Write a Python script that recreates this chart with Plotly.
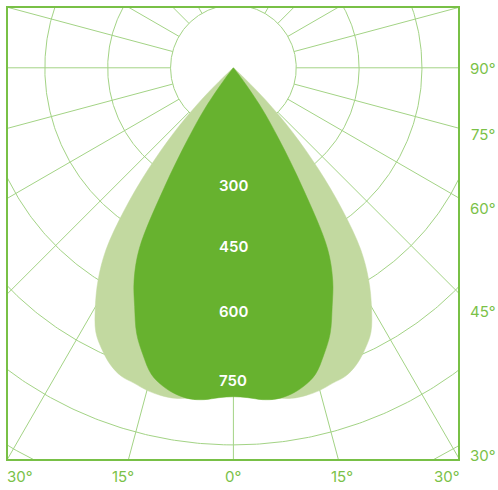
import numpy as np
import plotly.graph_objects as go

# ---- data (candela vs. angle from nadir, symmetric curve) ----
angles_deg = [0, 2.5, 5, 7.5, 10, 12.5, 15, 17.5, 20, 22.5, 25, 27.5, 30,
              32.5, 35, 37.5, 40, 42.5, 45, 47.5, 50]
dark_cd = [785, 788, 795, 797, 791, 778, 757, 718, 675, 616, 561, 486, 330,
           203, 117, 33, 0, 0, 0, 0, 0]
light_cd = [778, 780, 788, 795, 801, 801, 797, 789, 783, 767, 742, 711, 659,
            601, 530, 426, 316, 210, 107, 19, 0]

ring_values = [150, 300, 450, 600, 750, 900, 1050]
ring_labels = ["300", "450", "600", "750"]
radial_angles = list(range(0, 360, 15))
bottom_tick_labels = ["30°", "15°", "0°", "15°", "30°"]
side_tick_labels = ["90°", "75°", "60°", "45°", "30°"]

# ---- styles / layout constants ----
W, H = 498, 490
L, R, T, B = 7, 39, 7, 30
CX, CY = 233.4, 67.8          # pole position in pixels
S = 0.419                     # pixels per candela
GRID = "#a3d385"
FRAME = "#78c046"
TEXT = "#7ac147"
DARK = "#67b22f"
LIGHT = "#c2d9a0"

pw, ph = W - L - R, H - T - B
x_range = [-(CX - L) / S, (W - R - CX) / S]
y_range = [-(H - B - CY) / S, (CY - T) / S]


def to_xy(theta_deg, r):
    t = np.radians(np.asarray(theta_deg, dtype=float))
    r = np.asarray(r, dtype=float)
    return r * np.sin(t), -r * np.cos(t)


def closed_curve(ang, vals):
    ang = list(ang)
    vals = list(vals)
    if 0 in vals:
        k = vals.index(0)
        ang, vals = ang[:k + 1], vals[:k + 1]
    # right half (0 -> apex), then left half (apex -> 0), apex kept twice
    th = ang + [-a for a in reversed(ang[1:])]
    rr = vals + list(reversed(vals[1:]))
    th = th + [th[0]]
    rr = rr + [rr[0]]
    return to_xy(th, rr)


fig = go.Figure()

# grid rings
phi = np.linspace(0, 360, 721)
for rv in ring_values:
    x, y = to_xy(phi, np.full_like(phi, rv))
    fig.add_trace(go.Scatter(x=x, y=y, mode="lines",
                             line=dict(color=GRID, width=1),
                             hoverinfo="skip", showlegend=False))

# radial spokes
sx, sy = [], []
for a in radial_angles:
    x, y = to_xy([a, a], [ring_values[0], 1400])
    sx += list(x) + [None]
    sy += list(y) + [None]
fig.add_trace(go.Scatter(x=sx, y=sy, mode="lines",
                         line=dict(color=GRID, width=1),
                         hoverinfo="skip", showlegend=False))

# light curve
lx, ly = closed_curve(angles_deg, light_cd)
fig.add_trace(go.Scatter(x=lx, y=ly, mode="lines", fill="toself",
                         fillcolor=LIGHT,
                         line=dict(color=LIGHT, width=0.5, shape="spline",
                                   smoothing=1, simplify=False),
                         hoverinfo="skip", showlegend=False))
# dark curve
dx, dy = closed_curve(angles_deg, dark_cd)
fig.add_trace(go.Scatter(x=dx, y=dy, mode="lines", fill="toself",
                         fillcolor=DARK,
                         line=dict(color=DARK, width=0.5, shape="spline",
                                   smoothing=1, simplify=False),
                         hoverinfo="skip", showlegend=False))

# ring value labels (white, on 0° axis)
label_shift = [8, 10, 8, 2]
for txt, sh in zip(ring_labels, label_shift):
    fig.add_annotation(x=0, y=-float(txt), xref="x", yref="y", text=txt,
                       showarrow=False, yshift=sh,
                       font=dict(family="Inter", size=15, color="white",
                                 weight=600))


def px2paper(px, py):
    return (px - L) / pw, (H - B - py) / ph


bottom_px = [20, 123, 233.4, 342, 447]
for txt, px in zip(bottom_tick_labels, bottom_px):
    xp, yp = px2paper(px, 476)
    fig.add_annotation(x=xp, y=yp, xref="paper", yref="paper", text=txt,
                       showarrow=False, xanchor="center", yanchor="middle",
                       font=dict(family="Inter", size=15, color=TEXT))

side_py = [68.3, 134.3, 208.3, 311.7, 455]
for txt, py in zip(side_tick_labels, side_py):
    xp, yp = px2paper(483, py)
    fig.add_annotation(x=xp, y=yp, xref="paper", yref="paper", text=txt,
                       showarrow=False, xanchor="center", yanchor="middle",
                       font=dict(family="Inter", size=15, color=TEXT))

# frame
fig.add_shape(type="rect", xref="paper", yref="paper", x0=0, y0=0, x1=1, y1=1,
              line=dict(color=FRAME, width=2), layer="above")

fig.update_layout(
    width=W, height=H, margin=dict(l=L, r=R, t=T, b=B, pad=0),
    paper_bgcolor="white", plot_bgcolor="white",
    xaxis=dict(range=x_range, visible=False, fixedrange=True),
    yaxis=dict(range=y_range, visible=False, fixedrange=True),
    showlegend=False, hovermode=False,
)

fig.write_html("out.html",
               config={"displayModeBar": False},
               post_script="document.body.style.margin='0';"
                           "document.body.style.padding='0';"
                           "document.body.style.overflow='hidden';")
